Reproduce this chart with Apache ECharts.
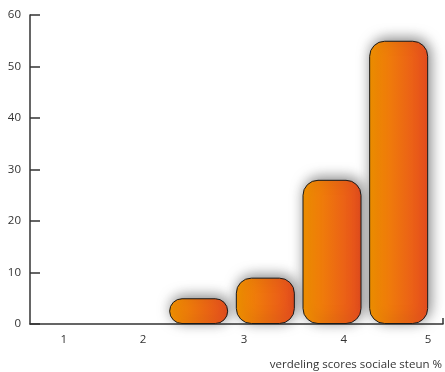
<!DOCTYPE html>
<html>
<head>
<meta charset="utf-8">
<script src="https://cdn.jsdelivr.net/npm/echarts@6/dist/echarts.min.js"></script>
<style>
  html, body { margin: 0; padding: 0; background: #fff; }
  #chart { width: 445px; height: 372px; }
</style>
</head>
<body>
<div id="chart"></div>
<script>
// Score bins and share of respondents (%) per bin
var bins = ['a', 'b', 'c', 'd', 'e', 'f'];
var shares = [0, 0, 5, 9, 28, 55];
// Score labels along the bottom axis
var scoreLabels = ['1', '2', '3', '4', '5'];
var yTicks = { min: 0, max: 60, step: 10 };
var axisTitle = 'verdeling scores sociale steun %';

var font = '"Open Sans", "Noto Sans", sans-serif';
var ink = '#333';

// where each score label sits along the bottom axis (percent of its length)
var labelSpots = [8.2, 27.4, 51.8, 76.0, 96.4];

var chart = echarts.init(document.getElementById('chart'));
chart.setOption({
  animation: false,
  title: {
    text: axisTitle,
    right: -2,
    top: 354,
    textStyle: { fontFamily: font, fontSize: 11.5, fontWeight: 'normal', color: ink }
  },
  grid: [
    { left: 32, right: 13, top: 15, bottom: 48 },
    { left: 30, right: 2, top: 15, bottom: 48 }
  ],
  xAxis: [
    {
      gridIndex: 0, type: 'category', data: bins,
      axisLine: { show: false }, axisTick: { show: false }, axisLabel: { show: false }
    },
    {
      gridIndex: 1, type: 'value', min: 0, max: 100,
      axisLine: { show: true, lineStyle: { color: ink, width: 1.5 } },
      axisTick: { show: true, inside: true, length: 6, customValues: [100], lineStyle: { color: ink, width: 1.5 } },
      splitLine: { show: false },
      axisLabel: {
        customValues: labelSpots,
        margin: 10,
        fontFamily: font, fontSize: 11.5, color: ink,
        formatter: function (v) {
          var i = labelSpots.indexOf(v);
          return i >= 0 ? scoreLabels[i] : '';
        }
      }
    }
  ],
  yAxis: [
    { gridIndex: 0, type: 'value', min: yTicks.min, max: yTicks.max, interval: yTicks.step, show: false },
    {
      gridIndex: 1, type: 'value', min: yTicks.min, max: yTicks.max, interval: yTicks.step,
      axisLine: { show: true, lineStyle: { color: ink, width: 1.5 } },
      axisTick: { show: true, inside: true, length: 10, lineStyle: { color: ink, width: 1.5 } },
      splitLine: { show: false },
      axisLabel: { margin: 9, fontFamily: font, fontSize: 11.5, color: ink }
    }
  ],
  series: [{
    type: 'bar',
    xAxisIndex: 0, yAxisIndex: 0,
    data: shares.map(function (v) { return v > 0 ? v : '-'; }),
    barWidth: 59,
    z: 1,
    itemStyle: {
      borderRadius: 15,
      borderColor: '#1a1a1a',
      borderWidth: 1,
      color: new echarts.graphic.LinearGradient(0, 0, 1, 0, [
        { offset: 0, color: '#f39200' },
        { offset: 1, color: '#e84e1f' }
      ]),
      shadowColor: 'rgba(0,0,0,0.5)',
      shadowBlur: 14,
      shadowOffsetX: 2,
      shadowOffsetY: -2
    }
  }]
});
</script>
</body>
</html>
